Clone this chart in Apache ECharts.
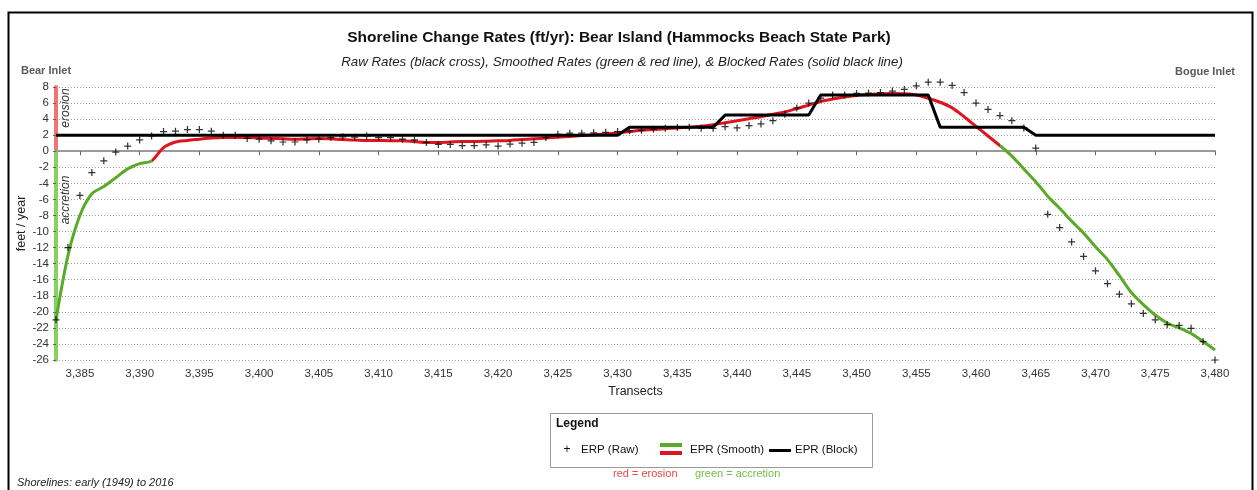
<!DOCTYPE html>
<html><head><meta charset="utf-8">
<script src="https://cdn.jsdelivr.net/npm/echarts@6/dist/echarts.min.js"></script>
<style>html,body{margin:0;padding:0;background:#fff}#c{width:1257px;height:490px}</style>
</head><body><div id="c"></div>
<script>
// ---- data ----
const transects = [3383,3384,3385,3386,3387,3388,3389,3390,3391,3392,3393,3394,3395,3396,3397,3398,3399,3400,
  3401,3402,3403,3404,3405,3406,3407,3408,3409,3410,3411,3412,3413,3414,3415,3416,3417,3418,3419,3420,
  3421,3422,3423,3424,3425,3426,3427,3428,3429,3430,3431,3432,3433,3434,3435,3436,3437,3438,3439,3440,
  3441,3442,3443,3444,3445,3446,3447,3448,3449,3450,3451,3452,3453,3454,3455,3456,3457,3458,3459,3460,
  3461,3462,3463,3464,3465,3466,3467,3468,3469,3470,3471,3472,3473,3474,3475,3476,3477,3478,3479,3480];
const rawRates = [-21.0,-12.0,-5.5,-2.65,-1.2,-0.1,0.65,1.4,1.9,2.45,2.5,2.7,2.7,2.5,2.0,2.0,1.6,1.5,
  1.3,1.15,1.15,1.4,1.5,1.7,1.8,1.75,1.9,1.7,1.7,1.5,1.4,1.1,0.85,0.85,0.7,0.7,0.8,0.65,
  0.9,1.0,1.1,1.7,2.1,2.25,2.25,2.3,2.35,2.45,2.55,2.6,2.75,2.85,2.95,3.0,2.85,2.85,3.05,2.9,
  3.2,3.4,3.8,4.6,5.4,6.0,6.6,7.0,7.0,7.2,7.25,7.3,7.5,7.7,8.15,8.6,8.6,8.2,7.3,6.0,
  5.2,4.45,3.8,2.9,0.4,-7.85,-9.5,-11.3,-13.1,-14.9,-16.5,-17.8,-19.0,-20.2,-21.0,-21.6,-21.7,-22.05,-23.7,-26.0];
const smoothRates = [-21.0,-13.0,-8.0,-5.3,-4.4,-3.3,-2.2,-1.55,-1.2,0.45,1.15,1.35,1.5,1.65,1.7,1.7,1.7,1.65,
  1.6,1.55,1.5,1.55,1.6,1.55,1.45,1.4,1.35,1.35,1.3,1.3,1.2,1.1,1.1,1.15,1.2,1.2,1.25,1.3,
  1.35,1.45,1.55,1.65,1.75,1.85,1.95,2.05,2.15,2.3,2.45,2.6,2.7,2.8,2.9,3.0,3.1,3.3,3.55,3.8,
  4.05,4.3,4.6,4.9,5.3,5.75,6.2,6.5,6.75,6.95,7.05,7.15,7.2,7.15,7.0,6.6,6.1,5.4,4.3,3.1,
  1.9,0.7,-0.6,-2.2,-3.8,-5.6,-7.1,-8.7,-10.2,-11.9,-13.5,-15.5,-17.6,-19.1,-20.4,-21.4,-22.0,-22.7,-23.7,-24.75];
const blockRates = [2,2,2,2,2,2,2,2,2,2,2,2,2,2,2,2,2,2,
  2,2,2,2,2,2,2,2,2,2,2,2,2,2,2,2,2,2,2,2,
  2,2,2,2,2,2,2,2,2,2,3,3,3,3,3,3,3,3,4.5,4.5,
  4.5,4.5,4.5,4.5,4.5,4.5,7,7,7,7,7,7,7,7,7,7,3,3,3,3,
  3,3,3,3,2,2,2,2,2,2,2,2,2,2,2,2,2,2,2,2];
const xTickValues = [3385,3390,3395,3400,3405,3410,3415,3420,3425,3430,3435,3440,3445,3450,3455,3460,3465,3470,3475,3480];
const xRange = [3383, 3480];
const yRange = [-26, 8];
const yStep = 2;
const erosionFrom = 3391, erosionTo = 3462;   // smoothed-line colour split (red = erosion)

// ---- styles ----
const RED = '#e0141c', GREEN = '#5aaa28';
const BAR_RED = '#f07474', BAR_GREEN = '#86d25e';
const F = 'Liberation Sans';

const pair = a => transects.map((t, i) => [t, a[i]]);
const zeroAt = yRange[1] / (yRange[1] - yRange[0]);

const chart = echarts.init(document.getElementById('c'));
const option = {
  animation: false,
  backgroundColor: '#fff',
  title: [
    { text: 'Shoreline Change Rates (ft/yr): Bear Island (Hammocks Beach State Park)', left: 614, top: 25, textAlign: 'center',
      textStyle: { fontFamily: F, fontSize: 15.5, fontWeight: 'bold', color: '#111' } },
    { text: 'Raw Rates (black cross), Smoothed Rates (green & red line), & Blocked Rates (solid black line)', left: 617, top: 51, textAlign: 'center',
      textStyle: { fontFamily: F, fontSize: 13.3, fontStyle: 'italic', fontWeight: 'normal', color: '#222' } }
  ],
  grid: { left: 56, right: 42, top: 87, bottom: 130 },
  xAxis: {
    type: 'value', min: xRange[0], max: xRange[1],
    name: 'Transects', nameLocation: 'middle', nameGap: 22,
    nameTextStyle: { fontFamily: F, fontSize: 12.5, color: '#222' },
    axisLine: { lineStyle: { color: '#9a9a9a', width: 2 } },
    axisTick: { customValues: xTickValues, length: 4, lineStyle: { color: '#666' } },
    axisLabel: { customValues: xTickValues, margin: 8, fontFamily: F, fontSize: 11.5, color: '#333',
      formatter: v => Number(v).toLocaleString('en-US') },
    splitLine: { show: false }
  },
  yAxis: {
    type: 'value', min: yRange[0], max: yRange[1], interval: yStep,
    name: 'feet / year', nameLocation: 'middle', nameGap: 28, nameRotate: 90, nameMoveOverlap: false,
    nameTextStyle: { fontFamily: F, fontSize: 12.5, color: '#222' },
    axisLine: { show: true, lineStyle: { width: 4, color: new echarts.graphic.LinearGradient(0, 0, 0, 1, [
      { offset: 0, color: BAR_RED }, { offset: zeroAt, color: BAR_RED },
      { offset: zeroAt, color: BAR_GREEN }, { offset: 1, color: BAR_GREEN }]) } },
    axisTick: { show: true, length: 3, lineStyle: { color: '#666' } },
    axisLabel: { margin: 7, fontFamily: F, fontSize: 11.5, color: '#333' },
    splitLine: { show: true, lineStyle: { color: '#9c9c9c', type: [1, 2], width: 1 } }
  },
  visualMap: {
    show: false, type: 'piecewise', seriesIndex: 0, dimension: 0,
    pieces: [
      { lt: erosionFrom, color: GREEN },
      { gte: erosionFrom, lt: erosionTo, color: RED },
      { gte: erosionTo, color: GREEN }
    ]
  },
  series: [
    { name: 'EPR (Smooth)', type: 'line', data: pair(smoothRates), showSymbol: false, smooth: 0.3,
      lineStyle: { width: 3 }, z: 2 },
    { name: 'EPR (Block)', type: 'line', data: pair(blockRates), showSymbol: false,
      lineStyle: { width: 3, color: '#000' }, itemStyle: { color: '#000' }, z: 3 },
    { name: 'ERP (Raw)', type: 'scatter', data: pair(rawRates), clip: false,
      symbol: 'path://M3,0h1.3v3h3v1.3h-3v3h-1.3v-3h-3v-1.3h3z', symbolSize: 7,
      itemStyle: { color: '#000' }, z: 4 }
  ],
  graphic: [
    { type: 'rect', left: 6, top: 10, shape: { width: 1244, height: 495 }, style: { fill: 'none', stroke: '#000', lineWidth: 2 }, silent: true },
    { type: 'text', x: 46, y: 71, style: { text: 'Bear Inlet', font: 'bold 11px "Liberation Sans"', fill: '#5a5a5a', textAlign: 'center', textVerticalAlign: 'middle' } },
    { type: 'text', x: 1205, y: 72, style: { text: 'Bogue Inlet', font: 'bold 11px "Liberation Sans"', fill: '#5a5a5a', textAlign: 'center', textVerticalAlign: 'middle' } },
    { type: 'text', x: 66, y: 108, rotation: Math.PI / 2, style: { text: 'erosion', font: 'italic 12px "Liberation Sans"', fill: '#333', textAlign: 'center', textVerticalAlign: 'middle' } },
    { type: 'text', x: 66, y: 200, rotation: Math.PI / 2, style: { text: 'accretion', font: 'italic 12px "Liberation Sans"', fill: '#333', textAlign: 'center', textVerticalAlign: 'middle' } },
    { type: 'text', x: 17, y: 483, style: { text: 'Shorelines: early (1949) to 2016', font: 'italic 11px "Liberation Sans"', fill: '#222', textAlign: 'left', textVerticalAlign: 'middle' } },
    // legend box
    { type: 'rect', left: 550, top: 413, shape: { width: 322, height: 54 }, style: { fill: '#fff', stroke: '#9a9a9a', lineWidth: 1 } },
    { type: 'text', x: 556, y: 424, style: { text: 'Legend', font: 'bold 12px "Liberation Sans"', fill: '#111', textAlign: 'left', textVerticalAlign: 'middle' } },
    { type: 'text', x: 567, y: 450, style: { text: '+', font: '12px "Liberation Sans"', fill: '#111', textAlign: 'center', textVerticalAlign: 'middle' } },
    { type: 'text', x: 581, y: 450, style: { text: 'ERP (Raw)', font: '11.5px "Liberation Sans"', fill: '#111', textAlign: 'left', textVerticalAlign: 'middle' } },
    { type: 'rect', left: 660, top: 443, shape: { width: 22, height: 4 }, style: { fill: GREEN } },
    { type: 'rect', left: 660, top: 451, shape: { width: 22, height: 4 }, style: { fill: RED } },
    { type: 'text', x: 690, y: 450, style: { text: 'EPR (Smooth)', font: '11.5px "Liberation Sans"', fill: '#111', textAlign: 'left', textVerticalAlign: 'middle' } },
    { type: 'rect', left: 769, top: 449, shape: { width: 22, height: 3 }, style: { fill: '#000' } },
    { type: 'text', x: 795, y: 450, style: { text: 'EPR (Block)', font: '11.5px "Liberation Sans"', fill: '#111', textAlign: 'left', textVerticalAlign: 'middle' } },
    { type: 'text', x: 613, y: 474, style: { text: 'red = erosion', font: '11px "Liberation Sans"', fill: '#e84848', textAlign: 'left', textVerticalAlign: 'middle' } },
    { type: 'text', x: 695, y: 474, style: { text: 'green = accretion', font: '11px "Liberation Sans"', fill: '#72bd44', textAlign: 'left', textVerticalAlign: 'middle' } }
  ]
};
chart.setOption(option);
</script>
</body></html>
